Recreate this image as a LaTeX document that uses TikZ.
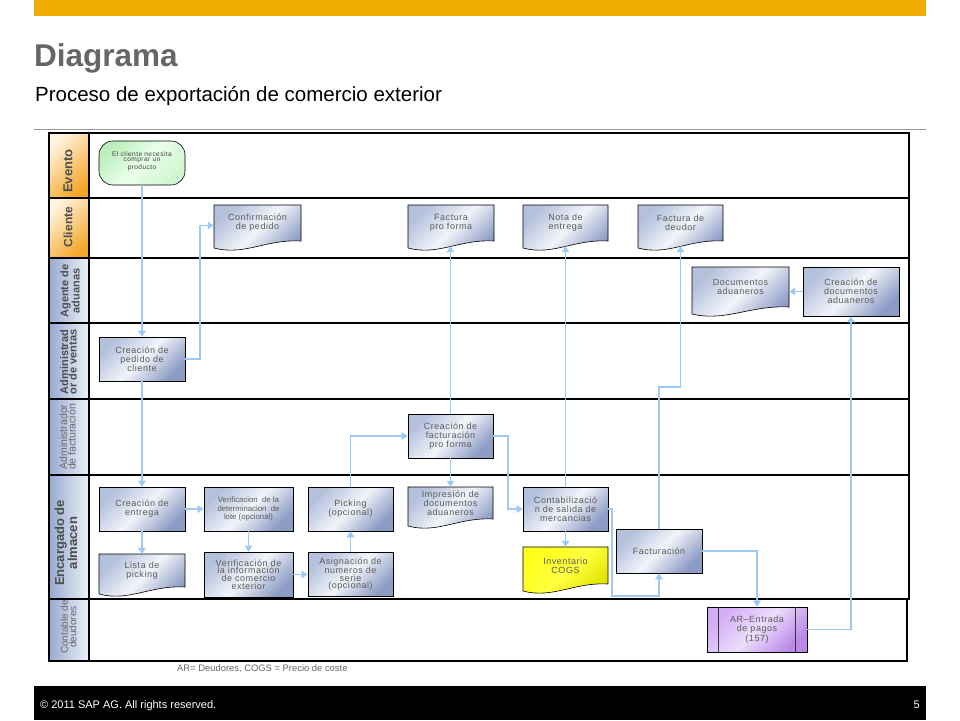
\documentclass[tikz,border=0pt]{standalone}
\usepackage{fontspec}
\setmainfont{Liberation Sans}
\newfontfamily\boxfont{Liberation Sans}[LetterSpace=6]
\usetikzlibrary{arrows.meta}

\definecolor{sapgold}{HTML}{F0AB00}
\definecolor{titlegray}{HTML}{666666}
\definecolor{conncol}{HTML}{9CCAF4}
\definecolor{boxA}{HTML}{B4C1DC}
\definecolor{boxB}{HTML}{8C9CC4}
\definecolor{boxM}{HTML}{F2F4F9}
\definecolor{boxtxt}{HTML}{5C5C5C}
\definecolor{lblA}{HTML}{97AACF}
\definecolor{lblB}{HTML}{EEF2F9}
\definecolor{orgA}{HTML}{FFF4DE}
\definecolor{orgB}{HTML}{F4A528}
\definecolor{lbldark}{HTML}{4E4E4E}
\definecolor{lbllight}{HTML}{6A6A6A}
\definecolor{grnA}{HTML}{BDEFBD}
\definecolor{grnB}{HTML}{CFF6CF}
\definecolor{grnM}{HTML}{EAFFEA}
\definecolor{yelA}{HTML}{FFFF1A}
\definecolor{yelB}{HTML}{E2E200}
\definecolor{yelM}{HTML}{FFFF40}
\definecolor{purA}{HTML}{D2ADF4}
\definecolor{purB}{HTML}{BC88E8}
\definecolor{purM}{HTML}{EBDDFB}

\tikzset{
  lanebox/.style={draw=black, line width=2.2pt},
  lblblue/.style={draw=black, line width=2.2pt, left color=lblA, right color=lblB},
  lblorange/.style={draw=black, line width=2.2pt, top color=orgA, bottom color=orgB, shading angle=45},
  lbltext/.style={rotate=90, align=center, inner sep=0pt},
  boxtext/.style={font=\boxfont\fontsize{9}{9}\selectfont, text=boxtxt, align=center, inner sep=0pt},
  procbox/.style={draw=black, line width=0.6pt, top color=boxA, bottom color=boxB, middle color=boxM, shading angle=45, boxtext},
  docshape/.style={draw=black, line width=0.6pt, top color=boxA, bottom color=boxB, middle color=boxM, shading angle=45},
  yelfill/.style={top color=yelA, bottom color=yelB, middle color=yelM, shading angle=45},
  conn/.style={draw=conncol, line width=1.8pt, -{Triangle[length=6pt,width=7.5pt]}}
}

% #1 name, #2 x1, #3 y1, #4 x2, #5 y2, #6 text, #7 extra style
\newcommand\mydoc[7]{%
  \path[docshape,#7] (#2,#5-3) .. controls ({#2+0.35*(#4-#2)},#5+5) and ({#2+0.6*(#4-#2)},#5-12) .. (#4,#5-10) -- (#4,#3) -- (#2,#3) -- cycle;
  \pgfmathsetmacro\dw{#4-#2}\pgfmathsetmacro\dh{#5-#3-5}%
  \node[inner sep=0pt, minimum width=\dw pt, minimum height=\dh pt] (#1) at ({(#2+#4)/2},{(#3+#5-5)/2}) {};
  \node[boxtext] (#1-t) at ({(#2+#4)/2},{(#3+#5-10)/2}) {#6};
}

\begin{document}
\begin{tikzpicture}[x=1pt,y=-1pt]
\useasboundingbox (0,0) rectangle (960,720);
\fill[white] (0,0) rectangle (960,720);

% header
\fill[sapgold] (34,0) rectangle (926,16);
\node[anchor=base west, inner sep=0pt, font=\bfseries\fontsize{31.5}{32}\selectfont, text=titlegray] (title) at (34,66) {Diagrama};
\node[anchor=base west, inner sep=0pt, font=\fontsize{20.5}{22}\selectfont, text=black] (subtitle) at (35,101) {Proceso de exportación de comercio exterior};
\draw[color=black!40, line width=0.8pt] (34,129) -- (926,129);

% lanes
\draw[lanebox] (49,133) rectangle (909,198);
\draw[lanebox] (49,198) rectangle (909,258);
\draw[lanebox] (49,258) rectangle (909,323);
\draw[lanebox] (49,323) rectangle (909,399);
\draw[lanebox] (49,399) rectangle (909,475);
\draw[lanebox] (49,475) rectangle (909,599);
\draw[lanebox] (49,599) rectangle (907,661);

\path[lblorange] (49,133) rectangle (89,198);
\path[lblorange] (49,198) rectangle (89,258);
\path[lblblue] (49,258) rectangle (89,323);
\path[lblblue] (49,323) rectangle (89,399);
\path[lblblue] (49,399) rectangle (89,475);
\path[lblblue] (49,475) rectangle (89,599);
\path[lblblue] (49,599) rectangle (89,661);

\node[lbltext, text=lbldark, font=\bfseries\fontsize{13}{12}\selectfont] (lEv) at (68,171) {Evento};
\node[lbltext, text=lbldark, font=\bfseries\fontsize{12}{11}\selectfont] (lCl) at (68,227) {Cliente};
\node[lbltext, text=lbldark, font=\bfseries\fontsize{11}{9}\selectfont] (lAg) at (70,291) {Agente de\\aduanas};
\node[lbltext, text=lbldark, font=\bfseries\fontsize{11}{8.5}\selectfont] (lAv) at (68.5,362) {Administrad\\or de ventas};
\node[lbltext, text=lbllight, font=\fontsize{10.5}{8.5}\selectfont] (lAf) at (67.5,437) {Administrador\\de facturación};
\node[lbltext, text=lbldark, font=\bfseries\fontsize{13}{10.5}\selectfont] (lEn) at (66,543) {Encargado de\\almacen};
\node[lbltext, text=lbllight, font=\fontsize{10}{8.5}\selectfont] (lCo) at (68.5,627) {Contable de\\deudores};

% event
\node[draw=black, line width=0.6pt, rounded corners=14pt, top color=grnA, bottom color=grnB, middle color=grnM, shading angle=45, minimum width=86pt, minimum height=44pt, inner sep=0pt] (ev) at (142,163) {};
\node[boxtext, font=\boxfont\fontsize{6.6}{5.6}\selectfont, text=black!75] (ev-t) at (142,161) {El cliente necesita\\comprar un\\producto};

% process boxes
\node[procbox, minimum width=86pt, minimum height=44pt] (cpc) at (142,359) {Creación de\\pedido de\\cliente};
\node[procbox, minimum width=86pt, minimum height=44pt] (ce) at (142,509) {Creación de\\entrega};
\node[procbox, minimum width=89pt, minimum height=44pt, font=\fontsize{7.8}{8.3}\selectfont] (vl) at (248.5,509) {Verificacion~ de la\\determinacion~ de\\lote (opcional)};
\node[procbox, minimum width=85pt, minimum height=44pt] (pk) at (350.5,509) {Picking\\(opcional)};
\node[procbox, minimum width=85pt, minimum height=44pt] (cfp) at (450.5,436) {Creación de\\facturación\\pro forma};
\node[procbox, minimum width=85pt, minimum height=44pt] (cs) at (565.5,509) {Contabilizació\\n de salida de\\mercancias};
\node[procbox, minimum width=89pt, minimum height=45pt, font=\boxfont\fontsize{9}{7.6}\selectfont] (vi) at (248.5,574.5) {Verificación de\\la información\\de comercio\\exterior};
\node[procbox, minimum width=85pt, minimum height=44pt, font=\boxfont\fontsize{9}{7.6}\selectfont] (as) at (350.5,574) {Asignación de\\numeros de\\serie\\(opcional)};
\node[procbox, minimum width=86pt, minimum height=44pt] (fac) at (659,551) {Facturación};
\node[procbox, minimum width=96pt, minimum height=49pt] (cda) at (851,291.5) {Creación de\\documentos\\aduaneros};
\node[procbox, top color=purA, bottom color=purB, middle color=purM, shading angle=45, minimum width=100pt, minimum height=45pt, font=\boxfont\fontsize{9}{9.5}\selectfont] (ar) at (757,629.5) {AR–Entrada\\de pagos\\(157)};
\draw[line width=0.6pt, color=black!80] ([xshift=12pt]ar.north west) -- ([xshift=12pt]ar.south west);
\draw[line width=0.6pt, color=black!80] ([xshift=-12pt]ar.north east) -- ([xshift=-12pt]ar.south east);

% documents
\mydoc{conf}{214}{205}{301}{251}{Confirmación\\de pedido}{}
\mydoc{fpf}{408}{205}{494}{251}{Factura\\pro forma}{}
\mydoc{ne}{523}{205}{608}{251}{Nota de\\entrega}{}
\mydoc{fd}{638}{205}{723}{251}{Factura de\\deudor}{}
\mydoc{da}{692}{267}{789}{317}{Documentos\\aduaneros}{}
\mydoc{lp}{99}{554}{185}{597}{Lista de\\picking}{}
\mydoc{imp}{408}{487}{493}{529}{Impresión de\\documentos\\aduaneros}{}
\mydoc{inv}{523}{547}{608}{594}{Inventario\\COGS}{yelfill}

% connectors
\draw[conn] (ev.south) -- (ev.south |- cpc.north);
\draw[conn] (cpc.east) -- ++(15,0) |- (conf.west);
\draw[conn] (cpc.south) -- (cpc.south |- ce.north);
\draw[conn] (ce.east) -- (ce.east -| vl.west);
\draw[conn] (ce.south) -- (ce.south |- lp.north);
\draw[conn] (vl.south) -- (vl.south |- vi.north);
\draw[conn] (vi.east) -- (vi.east -| as.west);
\draw[conn] (as.north) -- (as.north |- pk.south);
\draw[conn] (pk.north) |- (cfp.west);
\draw[conn] (cfp.north) -- (cfp.north |- fpf.south);
\draw[conn] (cfp.south) -- (cfp.south |- imp.north);
\draw[conn] (cfp.east) -- ++(15,0) |- (cs.west);
\draw[conn] (cs.north) -- (cs.north |- ne.south);
\draw[conn] (cs.south) -- (cs.south |- inv.north);
\draw[conn] (cs.east) -- ++(4,0) -- ++(0,87) -| (fac.south);
\draw[conn] (fac.north) -- ++(0,-142) -| (fd.south);
\draw[conn] (fac.east) -| (ar.north);
\draw[conn] (ar.east) -| (cda.south);
\draw[conn] (cda.west) -- (cda.west -| da.east);

% footnote
\node[anchor=base west, inner sep=0pt, font=\fontsize{9.4}{10}\selectfont, text=black!60] (note) at (177,671) {AR= Deudores, COGS = Precio de coste};

% footer
\fill[black] (34,686) rectangle (926,720);
\node[anchor=base west, inner sep=0pt, font=\fontsize{11}{12}\selectfont, text=white] (copy) at (40,708) {© 2011 SAP AG. All rights reserved.};
\node[anchor=base east, inner sep=0pt, font=\fontsize{11}{12}\selectfont, text=white] (pnum) at (920,708) {5};
\end{tikzpicture}
\end{document}
